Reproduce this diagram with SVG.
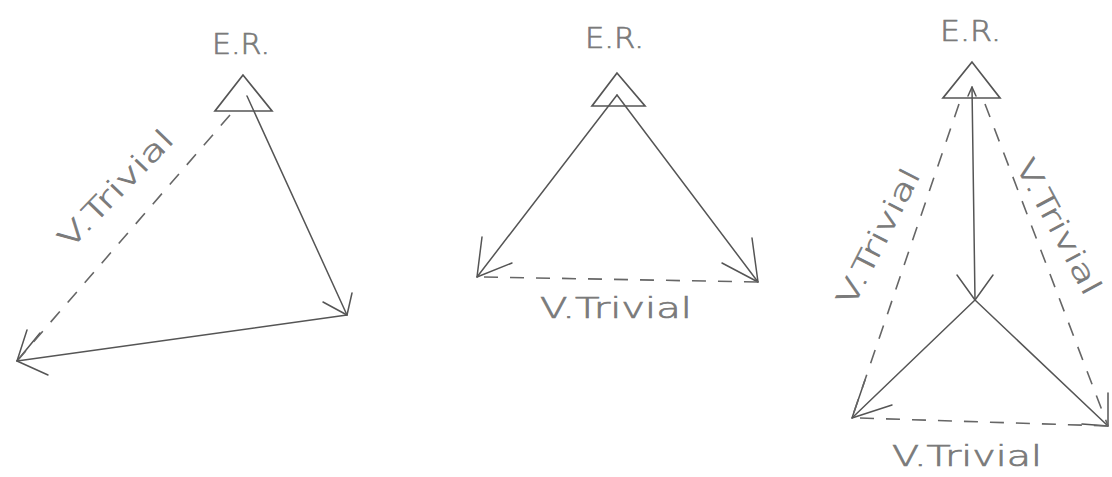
<svg xmlns="http://www.w3.org/2000/svg" width="1112" height="477" viewBox="0 0 1112 477">
<style>
.ln{fill:none;stroke:#555;stroke-width:1.5;stroke-linecap:round;stroke-linejoin:round}
.ds{fill:none;stroke:#666;stroke-width:1.6;stroke-dasharray:14 12}
.er{fill:none;stroke:#555;stroke-width:1.7;stroke-linejoin:miter}
.t{font-family:"DejaVu Sans","Liberation Sans",sans-serif;font-weight:200;font-size:28px;fill:#7a7a7a;stroke:#7a7a7a;stroke-width:0.7}
</style>
<rect width="1112" height="477" fill="#fff"/>
<g id="diagram1">
  <g id="d1-er">
    <polygon class="er" points="243,75 215,111 272,111"/>
    <text class="t" x="212" y="54" textLength="58" lengthAdjust="spacingAndGlyphs">E.R.</text>
  </g>
  <g id="d1-connectors">
    <line class="ln" x1="247" y1="96" x2="347" y2="315"/>
    <polyline class="ln" points="323,302 347,315 352,293"/>
    <line class="ln" x1="347" y1="315" x2="17" y2="361"/>
    <polyline class="ln" points="40,333 17,361 48,375"/>
    <line class="ds" x1="230" y1="115" x2="17" y2="361"/>
    <polyline class="ln" points="27,330 17,361"/>
    <text class="t" transform="translate(70,250) rotate(-46)" textLength="152" lengthAdjust="spacingAndGlyphs">V.Trivial</text>
  </g>
</g>
<g id="diagram2">
  <g id="d2-er">
    <polygon class="er" points="617,73 592,106 645,106"/>
    <text class="t" x="585" y="48" textLength="59" lengthAdjust="spacingAndGlyphs">E.R.</text>
  </g>
  <g id="d2-connectors">
    <line class="ln" x1="617" y1="95" x2="477" y2="277"/>
    <polyline class="ln" points="482,237 477,277 512,263"/>
    <line class="ln" x1="617" y1="95" x2="758" y2="282"/>
    <polyline class="ln" points="752,238 758,282 722,263"/>
    <line class="ds" x1="484" y1="277" x2="758" y2="282"/>
    <text class="t" x="540" y="318" textLength="152" lengthAdjust="spacingAndGlyphs">V.Trivial</text>
  </g>
</g>
<g id="diagram3">
  <g id="d3-er">
    <polygon class="er" points="972,62 943,98 1000,98"/>
    <text class="t" x="940" y="41" textLength="61" lengthAdjust="spacingAndGlyphs">E.R.</text>
  </g>
  <g id="d3-connectors">
    <line class="ln" x1="972" y1="87" x2="975" y2="300"/>
    <polyline class="ln" points="968,96 972,87 976,96"/>
    <polyline class="ln" points="957,275 975,300 993,275"/>
    <line class="ln" x1="975" y1="300" x2="852" y2="418"/>
    <polyline class="ln" points="865,380 852,418 892,405"/>
    <line class="ln" x1="975" y1="300" x2="1108" y2="426"/>
    <polyline class="ln" points="1108,393 1108,426 1082,424"/>
    <line class="ds" x1="959" y1="104" x2="852" y2="418"/>
    <line class="ds" x1="985" y1="104" x2="1108" y2="426"/>
    <line class="ds" x1="860" y1="418" x2="1108" y2="426"/>
    <text class="t" transform="translate(853,308) rotate(-63)" textLength="150" lengthAdjust="spacingAndGlyphs">V.Trivial</text>
    <text class="t" transform="translate(1015,165) rotate(62)" textLength="150" lengthAdjust="spacingAndGlyphs">V.Trivial</text>
    <text class="t" x="892" y="466" textLength="150" lengthAdjust="spacingAndGlyphs">V.Trivial</text>
  </g>
</g>
</svg>
